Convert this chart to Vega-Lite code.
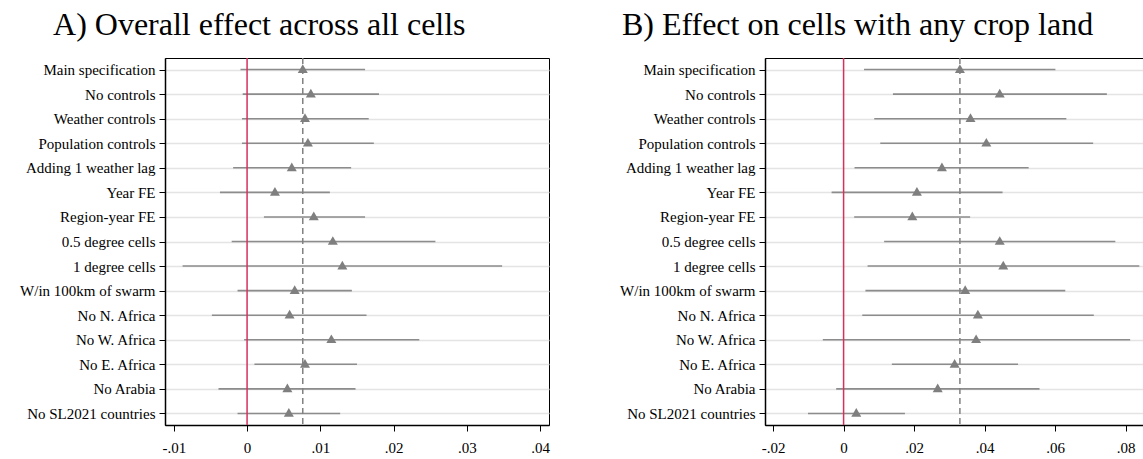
{
  "$schema": "https://vega.github.io/schema/vega-lite/v6.json",
  "padding": {"left": 0, "right": 1, "top": 8, "bottom": 0},
  "background": "white",
  "config": {
    "font": "Liberation Serif",
    "view": {"stroke": "#000000", "strokeWidth": 1},
    "axis": {"labelFont": "Liberation Serif", "labelFontSize": 15, "labelColor": "#000000", "domainColor": "#000000", "domainWidth": 1.5, "tickColor": "#000000", "tickWidth": 1, "tickSize": 6, "title": null}
  },
  "data": {"values": [
    {"panel": "A", "spec": "Main specification", "lo": -0.0009, "est": 0.0076, "hi": 0.0161},
    {"panel": "A", "spec": "No controls", "lo": -0.0006, "est": 0.0087, "hi": 0.0180},
    {"panel": "A", "spec": "Weather controls", "lo": -0.0007, "est": 0.0079, "hi": 0.0166},
    {"panel": "A", "spec": "Population controls", "lo": -0.0007, "est": 0.0083, "hi": 0.0173},
    {"panel": "A", "spec": "Adding 1 weather lag", "lo": -0.0019, "est": 0.0061, "hi": 0.0142},
    {"panel": "A", "spec": "Year FE", "lo": -0.0037, "est": 0.0038, "hi": 0.0113},
    {"panel": "A", "spec": "Region-year FE", "lo": 0.0023, "est": 0.0091, "hi": 0.0161},
    {"panel": "A", "spec": "0.5 degree cells", "lo": -0.0021, "est": 0.0117, "hi": 0.0257},
    {"panel": "A", "spec": "1 degree cells", "lo": -0.0088, "est": 0.0130, "hi": 0.0348},
    {"panel": "A", "spec": "W/in 100km of swarm", "lo": -0.0013, "est": 0.0065, "hi": 0.0143},
    {"panel": "A", "spec": "No N. Africa", "lo": -0.0048, "est": 0.0058, "hi": 0.0163},
    {"panel": "A", "spec": "No W. Africa", "lo": -0.0004, "est": 0.0115, "hi": 0.0235},
    {"panel": "A", "spec": "No E. Africa", "lo": 0.0010, "est": 0.0079, "hi": 0.0150},
    {"panel": "A", "spec": "No Arabia", "lo": -0.0039, "est": 0.0055, "hi": 0.0148},
    {"panel": "A", "spec": "No SL2021 countries", "lo": -0.0013, "est": 0.0057, "hi": 0.0127},
    {"panel": "B", "spec": "Main specification", "lo": 0.0058, "est": 0.0330, "hi": 0.0601},
    {"panel": "B", "spec": "No controls", "lo": 0.0140, "est": 0.0443, "hi": 0.0747},
    {"panel": "B", "spec": "Weather controls", "lo": 0.0087, "est": 0.0360, "hi": 0.0632},
    {"panel": "B", "spec": "Population controls", "lo": 0.0104, "est": 0.0405, "hi": 0.0708},
    {"panel": "B", "spec": "Adding 1 weather lag", "lo": 0.0031, "est": 0.0279, "hi": 0.0525},
    {"panel": "B", "spec": "Year FE", "lo": -0.0034, "est": 0.0208, "hi": 0.0451},
    {"panel": "B", "spec": "Region-year FE", "lo": 0.0030, "est": 0.0195, "hi": 0.0359},
    {"panel": "B", "spec": "0.5 degree cells", "lo": 0.0115, "est": 0.0443, "hi": 0.0771},
    {"panel": "B", "spec": "1 degree cells", "lo": 0.0068, "est": 0.0453, "hi": 0.0839},
    {"panel": "B", "spec": "W/in 100km of swarm", "lo": 0.0062, "est": 0.0345, "hi": 0.0629},
    {"panel": "B", "spec": "No N. Africa", "lo": 0.0053, "est": 0.0381, "hi": 0.0710},
    {"panel": "B", "spec": "No W. Africa", "lo": -0.0059, "est": 0.0376, "hi": 0.0813},
    {"panel": "B", "spec": "No E. Africa", "lo": 0.0137, "est": 0.0315, "hi": 0.0495},
    {"panel": "B", "spec": "No Arabia", "lo": -0.0021, "est": 0.0267, "hi": 0.0556},
    {"panel": "B", "spec": "No SL2021 countries", "lo": -0.0101, "est": 0.0036, "hi": 0.0174}
  ]},
  "spacing": 49,
  "hconcat": [
    {
      "width": 384,
      "height": 367,
      "title": {"text": "A) Overall effect across all cells", "fontSize": 32, "fontWeight": "normal", "font": "Liberation Serif", "color": "#000000", "anchor": "middle", "frame": "bounds", "dx": -16, "offset": -10, "baseline": "alphabetic"},
      "transform": [{"filter": "datum.panel == 'A'"}],
      "layer": [
        {
          "mark": {"type": "rule", "color": "#8c8c8c", "strokeWidth": 1.6},
          "encoding": {
            "x": {"field": "lo", "type": "quantitative", "scale": {"domain": [-0.0112, 0.0412], "nice": false, "zero": false}, "axis": {"values": [-0.01, 0, 0.01, 0.02, 0.03, 0.04], "grid": false, "labelPadding": 9, "labelExpr": "datum.value == 0 ? '0' : (datum.value < 0 ? '-' : '') + replace(format(abs(datum.value), '.2f'), '0.', '.')"}},
            "x2": {"field": "hi"},
            "y": {"field": "spec", "type": "nominal", "sort": null, "scale": {"type": "point", "padding": 0.47}, "axis": {"grid": true, "gridColor": "#e4e4e4", "gridWidth": 1.5, "labelPadding": 4, "minExtent": 164, "maxExtent": 164, "labelLimit": 300}}
          }
        },
        {
          "transform": [{"filter": "datum.spec == 'Main specification'"}],
          "mark": {"type": "rule", "color": "#d6305e", "strokeWidth": 1.5},
          "encoding": {"x": {"datum": 0, "type": "quantitative"}}
        },
        {
          "transform": [{"filter": "datum.spec == 'Main specification'"}],
          "mark": {"type": "rule", "color": "#808080", "strokeWidth": 1.5, "strokeDash": [6, 4]},
          "encoding": {"x": {"field": "est", "type": "quantitative"}}
        },
        {
          "mark": {"type": "point", "shape": "triangle-up", "filled": true, "color": "#7f7f7f", "opacity": 1, "size": 100, "yOffset": -1},
          "encoding": {
            "x": {"field": "est", "type": "quantitative"},
            "y": {"field": "spec", "type": "nominal", "sort": null}
          }
        }
      ]
    },
    {
      "width": 381,
      "height": 367,
      "title": {"text": "B) Effect on cells with any crop land", "fontSize": 32, "fontWeight": "normal", "font": "Liberation Serif", "color": "#000000", "anchor": "middle", "frame": "bounds", "dx": -16, "offset": -10, "baseline": "alphabetic"},
      "transform": [{"filter": "datum.panel == 'B'"}],
      "layer": [
        {
          "mark": {"type": "rule", "color": "#8c8c8c", "strokeWidth": 1.6},
          "encoding": {
            "x": {"field": "lo", "type": "quantitative", "scale": {"domain": [-0.0223, 0.0858], "nice": false, "zero": false}, "axis": {"values": [-0.02, 0, 0.02, 0.04, 0.06, 0.08], "grid": false, "labelPadding": 9, "labelExpr": "datum.value == 0 ? '0' : (datum.value < 0 ? '-' : '') + replace(format(abs(datum.value), '.2f'), '0.', '.')"}},
            "x2": {"field": "hi"},
            "y": {"field": "spec", "type": "nominal", "sort": null, "scale": {"type": "point", "padding": 0.47}, "axis": {"grid": true, "gridColor": "#e4e4e4", "gridWidth": 1.5, "labelPadding": 4, "minExtent": 164, "maxExtent": 164, "labelLimit": 300}}
          }
        },
        {
          "transform": [{"filter": "datum.spec == 'Main specification'"}],
          "mark": {"type": "rule", "color": "#d6305e", "strokeWidth": 1.5},
          "encoding": {"x": {"datum": 0, "type": "quantitative"}}
        },
        {
          "transform": [{"filter": "datum.spec == 'Main specification'"}],
          "mark": {"type": "rule", "color": "#808080", "strokeWidth": 1.5, "strokeDash": [6, 4]},
          "encoding": {"x": {"field": "est", "type": "quantitative"}}
        },
        {
          "mark": {"type": "point", "shape": "triangle-up", "filled": true, "color": "#7f7f7f", "opacity": 1, "size": 100, "yOffset": -1},
          "encoding": {
            "x": {"field": "est", "type": "quantitative"},
            "y": {"field": "spec", "type": "nominal", "sort": null}
          }
        }
      ]
    }
  ]
}
